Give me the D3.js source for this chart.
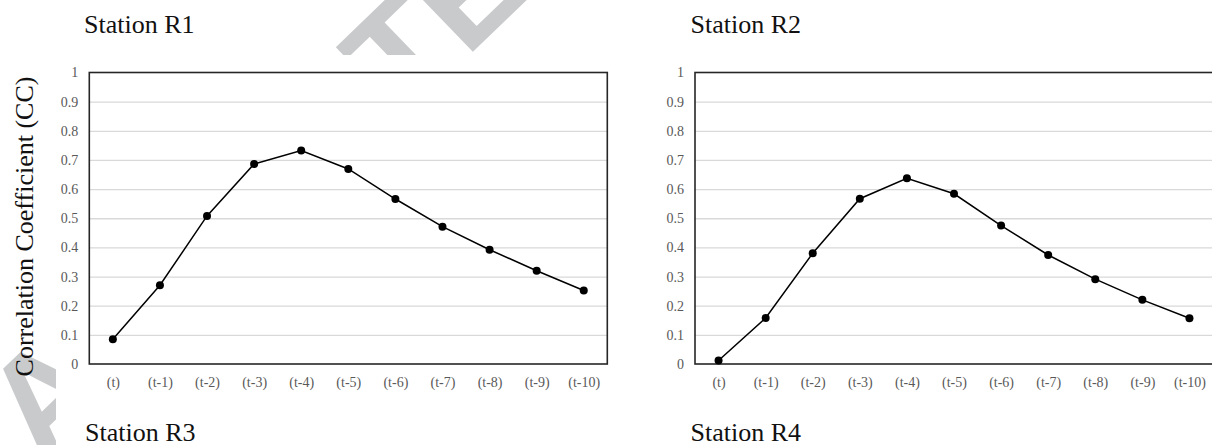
<!DOCTYPE html>
<html>
<head>
    <meta charset="utf-8">
    <title>Correlation Coefficient against lag, stations R1-R4</title>
    <script src="https://d3js.org/d3.v7.min.js"></script>
    <style>
        body {
            margin: 0;
            background: #fff;
        }
        svg text {
            font-family: "Liberation Serif", "Times New Roman", serif;
        }
        .tick-label {
            font-size: 14px;
            fill: #595959;
        }
        .title {
            font-size: 26px;
            fill: #111;
        }
        .grid line {
            stroke: #d9d9d9;
            stroke-width: 1.3px;
        }
        svg text.watermark {
            font-family: "Liberation Sans", Arial, sans-serif;
            font-weight: bold;
            font-size: 143px;
            fill: #c9cacc;
        }
    </style>
</head>
<body>
    <svg id="chart" width="1212" height="445"></svg>

    <script>
        // lag labels along the x axis
        const lags = ['(t)', '(t-1)', '(t-2)', '(t-3)', '(t-4)', '(t-5)',
                      '(t-6)', '(t-7)', '(t-8)', '(t-9)', '(t-10)'];
        // correlation coefficient
        const ccR1 = [0.085, 0.270, 0.508, 0.686, 0.732, 0.669, 0.566, 0.471, 0.392, 0.320, 0.252];
        const ccR2 = [0.012, 0.158, 0.380, 0.567, 0.637, 0.584, 0.475, 0.374, 0.291, 0.220, 0.157];
        const yTicks = [0, 0.1, 0.2, 0.3, 0.4, 0.5, 0.6, 0.7, 0.8, 0.9, 1];
        const yTickLabels = ['0', '0.1', '0.2', '0.3', '0.4', '0.5', '0.6', '0.7', '0.8', '0.9', '1'];

        const svg = d3.select('#chart');

        // faint "accepted manuscript" stamp behind the figure
        svg.append('text')
            .attr('class', 'watermark')
            .attr('transform', 'translate(43,467) rotate(-44)')
            .text('ACCEPTED MANUSCRIPT');

        const plotTop = 72.5, plotBottom = 364, plotWidth = 518;

        const panels = [
            {name: 'Station R1', values: ccR1, left: 89.3, titleX: 84, cover: [56, 55, 590, 390]},
            {name: 'Station R2', values: ccR2, left: 695, titleX: 690.5, cover: [646, 55, 566, 390]}
        ];

        panels.forEach(p => {
            // the panel image hides the stamp
            svg.append('rect')
                .attr('x', p.cover[0]).attr('y', p.cover[1])
                .attr('width', p.cover[2]).attr('height', p.cover[3])
                .attr('fill', '#fff');

            const x = d3.scalePoint()
                .domain(lags)
                .range([p.left, p.left + plotWidth])
                .padding(0.5);
            const y = d3.scaleLinear()
                .domain([0, 1])
                .range([plotBottom, plotTop]);

            const g = svg.append('g');

            // horizontal gridlines
            g.append('g')
                .attr('class', 'grid')
                .attr('transform', `translate(${p.left},0)`)
                .call(d3.axisLeft(y).tickValues(yTicks.slice(1, -1)).tickSize(-plotWidth).tickFormat(''))
                .call(a => a.select('.domain').remove());

            // y tick labels
            g.append('g')
                .attr('transform', `translate(${p.left},0)`)
                .call(d3.axisLeft(y).tickValues(yTicks).tickSize(0).tickPadding(11)
                    .tickFormat((d, i) => yTickLabels[i]))
                .call(a => a.select('.domain').remove())
                .call(a => a.selectAll('text').attr('class', 'tick-label').attr('font-family', null).attr('font-size', null).attr('fill', null));

            // x tick labels
            g.append('g')
                .attr('transform', `translate(0,${plotBottom})`)
                .call(d3.axisBottom(x).tickSize(0).tickPadding(13))
                .call(a => a.select('.domain').remove())
                .call(a => a.selectAll('text').attr('class', 'tick-label').attr('font-family', null).attr('font-size', null).attr('fill', null));

            // plot frame
            g.append('rect')
                .attr('x', p.left)
                .attr('y', plotTop)
                .attr('width', plotWidth)
                .attr('height', plotBottom - plotTop)
                .attr('fill', 'none')
                .attr('stroke', '#262626')
                .attr('stroke-width', 1.6);

            const line = d3.line()
                .x((d, i) => x(lags[i]))
                .y(d => y(d));

            g.append('path')
                .datum(p.values)
                .attr('d', line)
                .attr('fill', 'none')
                .attr('stroke', '#000')
                .attr('stroke-width', 1.5);

            g.selectAll('.dot')
                .data(p.values)
                .enter().append('circle')
                .attr('class', 'dot')
                .attr('cx', (d, i) => x(lags[i]))
                .attr('cy', d => y(d))
                .attr('r', 4)
                .attr('fill', '#000');

            svg.append('text')
                .attr('class', 'title')
                .attr('x', p.titleX)
                .attr('y', 32.5)
                .text(p.name);
        });

        // lower row titles
        svg.append('text').attr('class', 'title').attr('x', 85).attr('y', 441).text('Station R3');
        svg.append('text').attr('class', 'title').attr('x', 690.5).attr('y', 441).text('Station R4');

        // shared y axis title
        svg.append('text')
            .attr('class', 'title')
            .attr('transform', 'translate(33,226.5) rotate(-90)')
            .style('text-anchor', 'middle')
            .text('Correlation Coefficient (CC)');
    </script>
</body>
</html>
